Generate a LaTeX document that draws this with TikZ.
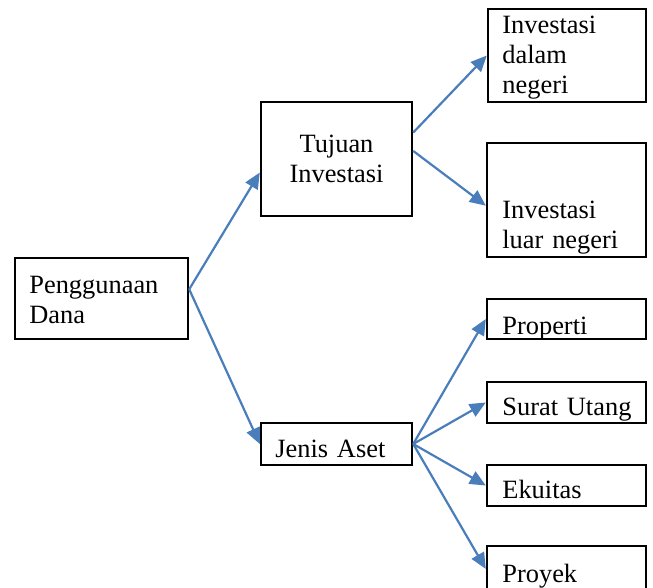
\documentclass[tikz,border=0pt]{standalone}
\usepackage{fontspec}
\setmainfont{Liberation Serif}
\usepackage{tikz}
\usetikzlibrary{arrows.meta,shapes}

\definecolor{linkblue}{RGB}{74,126,187}

\begin{document}
\begin{tikzpicture}[x=0.5pt,y=-0.5pt,
	box node/.style={rectangle,draw,line width=1.2pt,inner sep=0pt},
	text node/.style={inner sep=0pt,text width=80pt,align=left,anchor=base west,
		font=\fontsize{13.2}{15}\selectfont},
	link/.style={-{Triangle[length=8pt,width=7pt]},draw=linkblue,line width=1.1pt}
]

	\useasboundingbox (0,0) rectangle (653,588);

	% boxes
	\node[box node,minimum width=86.5pt,minimum height=40.5pt] (pd) at (101.5,298.5) {};
	\node[box node,minimum width=75.5pt,minimum height=57pt] (ti) at (336.5,159) {};
	\node[box node,minimum width=75.5pt,minimum height=21pt] (ja) at (336.5,444) {};
	\node[box node,minimum width=79pt,minimum height=46.5pt] (dn) at (567,55.5) {};
	\node[box node,minimum width=79.5pt,minimum height=57pt] (ln) at (566.5,200) {};
	\node[box node,minimum width=79.5pt,minimum height=20pt] (pr) at (566.5,319) {};
	\node[box node,minimum width=79.5pt,minimum height=20.5pt] (su) at (566.5,402.5) {};
	\node[box node,minimum width=79.5pt,minimum height=20.5pt] (ek) at (566.5,485.5) {};
	\node[box node,minimum width=79.5pt,minimum height=23pt] (py) at (566.5,569) {};

	% texts
	\node[text node] (pd-t) at (29,293) {Penggunaan\\Dana};
	\node[text node,text width=70pt,align=center,anchor=base] (ti-t) at (336.5,153) {Tujuan\\Investasi};
	\node[text node] (ja-t) at (275,457) {Jenis Aset};
	\node[text node] (dn-t) at (502,34) {Investasi\\dalam\\negeri};
	\node[text node] (ln-t) at (502,219) {Investasi\\luar negeri};
	\node[text node] (pr-t) at (502,334) {Properti};
	\node[text node] (su-t) at (502,415) {Surat Utang};
	\node[text node] (ek-t) at (502,498) {Ekuitas};
	\node[text node] (py-t) at (502,582) {Proyek};

	% links
	\draw[link] (pd.6) -- (ti.190);
	\draw[link] (pd.6) -- (ja.west);
	\draw[link] (ti.19) -- (dn.west);
	\draw[link] (ti.6) -- (ln.184);
	\foreach \s in {pr,su,ek,py} {
		\draw[link] (ja.east) -- (\s.west);
	}
\end{tikzpicture}
\end{document}
